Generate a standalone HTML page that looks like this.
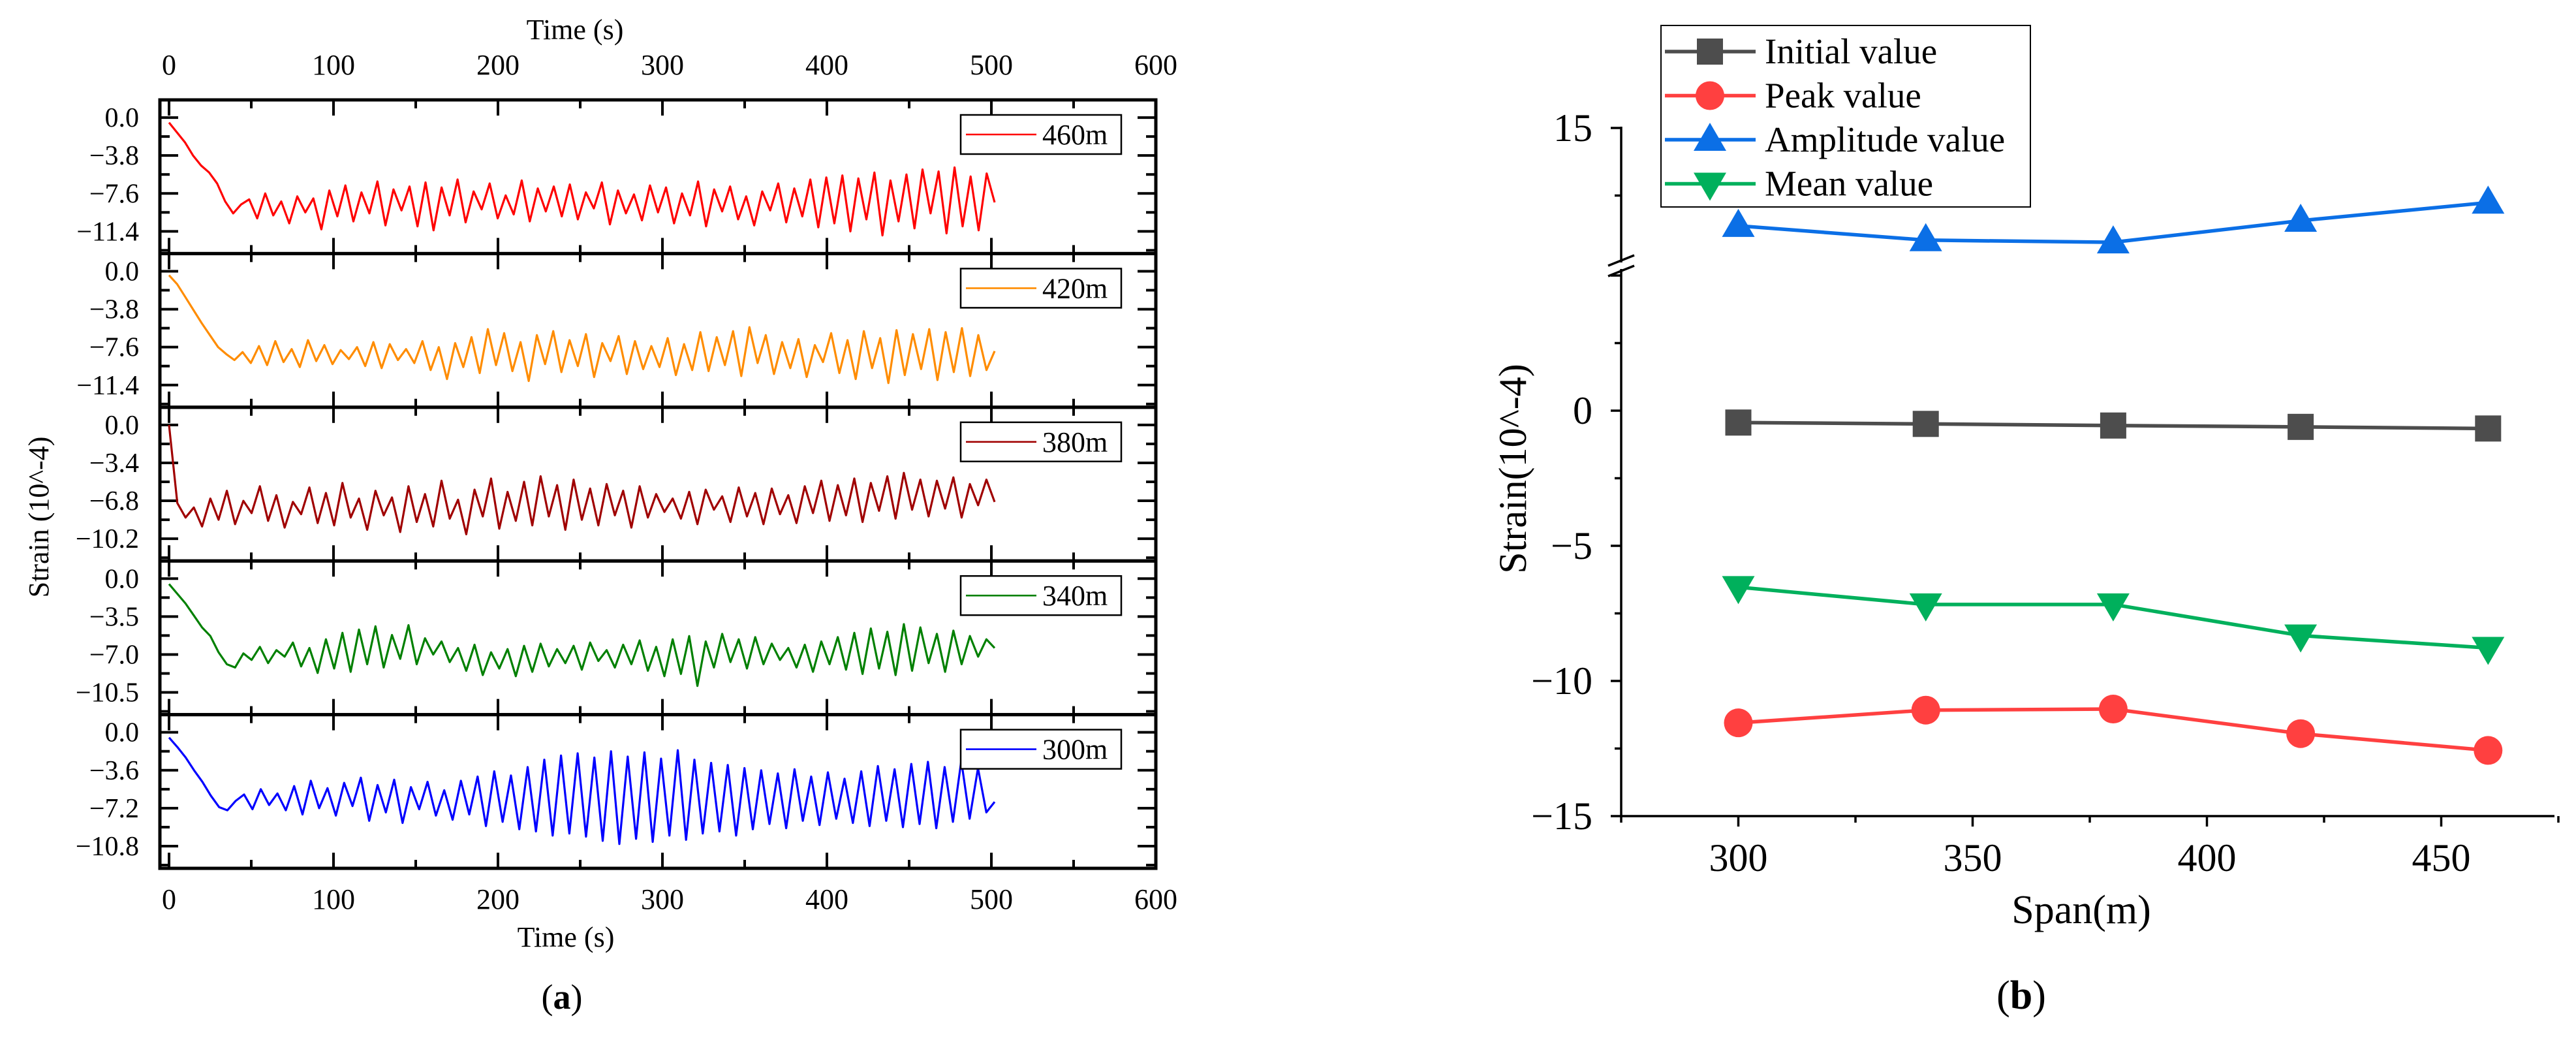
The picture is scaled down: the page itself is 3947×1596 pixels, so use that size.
<!DOCTYPE html>
<html><head><meta charset="utf-8"><style>
html,body{margin:0;padding:0;background:#fff}
svg{display:block}
text{font-family:"Liberation Serif",serif;fill:#000}
</style></head><body>
<svg id="fig" width="3947" height="1596" viewBox="0 0 3947 1596" xmlns="http://www.w3.org/2000/svg">
<g id="left"></g>
<g id="right"></g>
</svg>
<script>
// ---- Panel (a) data ----
const seriesNames = ["460m","420m","380m","340m","300m"];
const seriesColors = ["#ff0000","#ff8c00","#a00000","#008000","#0000ff"];
const tickSteps = [3.8,3.8,3.4,3.5,3.6];
const xTicksA = [0,100,200,300,400,500,600];
const s460 = [-0.5,-1.5,-2.5,-3.8,-4.8,-5.5,-6.6,-8.4,-9.6,-8.7,-8.2,-10.1,-7.6,-9.8,-8.4,-10.6,-7.9,-9.5,-8.1,-11.2,-7.3,-9.9,-6.8,-10.4,-7.5,-9.6,-6.4,-10.8,-7.2,-9.3,-6.9,-10.9,-6.5,-11.3,-7.0,-9.8,-6.2,-10.5,-7.4,-9.2,-6.6,-10.1,-7.8,-9.7,-6.3,-10.4,-7.1,-9.4,-6.9,-9.9,-6.7,-10.2,-7.5,-9.1,-6.5,-10.7,-7.3,-9.6,-7.7,-10.3,-6.8,-9.5,-7.0,-10.6,-7.6,-9.8,-6.4,-10.9,-7.2,-9.4,-6.9,-10.2,-7.9,-10.8,-7.4,-9.3,-6.6,-10.5,-7.1,-9.9,-6.2,-11.0,-6.0,-10.6,-5.8,-11.4,-6.1,-10.2,-5.5,-11.8,-6.3,-10.4,-5.7,-11.1,-5.2,-9.6,-5.4,-11.6,-5.0,-10.9,-5.9,-11.3,-5.6,-8.5];
const s420 = [-0.4,-1.3,-2.6,-3.9,-5.2,-6.4,-7.6,-8.3,-8.9,-8.1,-9.2,-7.5,-9.4,-7.0,-9.1,-7.8,-9.6,-6.9,-9.0,-7.4,-9.3,-7.9,-8.8,-7.6,-9.5,-7.1,-9.7,-7.3,-8.9,-7.8,-9.2,-7.0,-9.9,-7.6,-10.8,-7.2,-9.6,-6.6,-10.2,-5.8,-9.4,-6.2,-10.0,-7.1,-11.0,-6.4,-9.3,-6.0,-10.1,-6.9,-9.5,-6.3,-10.6,-7.2,-9.0,-6.5,-10.3,-7.0,-9.8,-7.5,-9.6,-6.7,-10.4,-7.3,-9.9,-6.1,-10.0,-6.6,-9.4,-6.0,-10.5,-5.6,-9.2,-6.4,-10.3,-7.1,-9.7,-6.8,-10.6,-7.4,-9.1,-6.2,-10.2,-6.9,-10.8,-6.0,-9.7,-6.7,-11.2,-5.9,-10.4,-6.3,-9.8,-5.8,-10.9,-6.1,-10.1,-5.7,-10.5,-6.4,-9.9,-8.0];
const s380 = [0.0,-7.0,-8.3,-7.4,-9.1,-6.6,-8.5,-5.9,-8.9,-6.8,-7.9,-5.5,-8.6,-6.3,-9.2,-6.9,-8.0,-5.6,-8.8,-6.1,-9.0,-5.2,-8.3,-6.6,-9.4,-5.9,-8.1,-6.5,-9.6,-5.5,-8.7,-6.2,-9.1,-5.0,-8.4,-6.7,-9.8,-5.8,-8.2,-4.8,-9.3,-6.0,-8.6,-5.1,-9.0,-4.6,-8.2,-5.4,-9.4,-4.9,-8.5,-5.7,-9.0,-5.3,-8.1,-5.9,-9.2,-5.5,-8.3,-6.2,-7.8,-6.6,-8.4,-6.0,-8.9,-5.8,-7.6,-6.4,-8.7,-5.6,-8.2,-6.1,-8.9,-5.7,-8.0,-6.3,-8.8,-5.5,-7.9,-5.0,-8.6,-5.4,-8.1,-4.8,-8.7,-5.2,-7.7,-4.6,-8.4,-4.3,-7.6,-4.9,-8.2,-5.0,-7.5,-4.7,-8.3,-5.3,-7.2,-4.9,-6.9];
const s340 = [-0.5,-1.4,-2.3,-3.4,-4.5,-5.3,-6.8,-7.9,-8.2,-6.9,-7.5,-6.3,-7.8,-6.6,-7.2,-5.9,-8.1,-6.4,-8.7,-5.6,-8.3,-5.0,-8.6,-4.7,-7.9,-4.4,-8.2,-5.2,-7.4,-4.3,-7.9,-5.5,-7.0,-5.8,-7.7,-6.4,-8.5,-6.1,-8.9,-6.8,-8.3,-6.5,-9.0,-6.2,-8.6,-6.0,-8.1,-6.5,-7.8,-6.2,-8.4,-5.9,-7.6,-6.6,-8.2,-6.1,-7.9,-5.7,-8.5,-6.3,-9.0,-5.6,-8.8,-5.3,-9.9,-5.8,-8.2,-5.1,-7.7,-5.6,-8.3,-5.4,-7.9,-6.0,-7.5,-6.4,-8.2,-6.1,-8.6,-5.8,-7.9,-5.4,-8.4,-5.0,-8.8,-4.6,-8.3,-4.9,-8.9,-4.2,-8.5,-4.5,-7.8,-5.1,-8.6,-4.8,-7.9,-5.3,-7.2,-5.6,-6.4];
const s300 = [-0.5,-1.4,-2.4,-3.6,-4.7,-6.0,-7.1,-7.4,-6.5,-5.9,-7.3,-5.4,-6.9,-5.8,-7.4,-5.1,-7.8,-4.6,-7.2,-5.3,-7.9,-4.8,-7.0,-4.3,-8.4,-5.0,-7.6,-4.5,-8.6,-5.2,-7.3,-4.7,-7.9,-5.5,-8.3,-4.6,-7.8,-4.2,-8.9,-3.7,-8.5,-4.1,-9.2,-3.3,-9.4,-2.6,-9.8,-2.2,-9.6,-2.0,-9.9,-2.4,-10.3,-1.8,-10.6,-2.3,-10.1,-1.9,-10.4,-2.5,-9.8,-1.7,-10.2,-2.6,-9.6,-2.9,-9.4,-3.1,-9.8,-3.4,-9.2,-3.6,-8.7,-3.9,-9.1,-3.5,-8.4,-4.2,-8.8,-3.8,-8.2,-4.4,-8.6,-3.7,-8.9,-3.2,-8.4,-3.5,-9.0,-3.0,-8.7,-2.8,-9.1,-3.3,-8.5,-2.7,-8.2,-3.4,-7.6,-6.6];
const seriesA = [s460,s420,s380,s340,s300];
const tEnd = 502;

// ---- Panel (b) data ----
const spans = [300,340,380,420,460];
const initialVals = [-0.44,-0.49,-0.55,-0.60,-0.66];
const peakVals = [-11.55,-11.08,-11.04,-11.95,-12.57];
const amplitudeVals = [11.38,10.85,10.77,11.57,12.24];
const meanVals = [-6.53,-7.17,-7.17,-8.32,-8.78];
const xTicksB = [300,350,400,450];
const yTicksLower = [0,-5,-10,-15];

const NS="http://www.w3.org/2000/svg";
function mk(tag, attrs, parent, txt){const e=document.createElementNS(NS,tag);for(const k in attrs)e.setAttribute(k,attrs[k]);if(txt!==undefined)e.textContent=txt;parent.appendChild(e);return e;}

// ===== Panel (a) =====
const L=document.getElementById('left');
const FX0=245, FX1=1771, PT=153, PH=235.4;
const tx = t => 259 + t*2.52;
for(const t of xTicksA){
  const a=mk('text',{x:tx(t),y:114,'font-size':44,'text-anchor':'middle'},L,String(t));
  
  
  const b=mk('text',{x:tx(t),y:1392,'font-size':44,'text-anchor':'middle'},L,String(t));
  
  
}
let e=mk('text',{x:tx(250)-8,y:60,'font-size':44,'text-anchor':'middle'},L,'Time (s)');

e=mk('text',{x:tx(250)-22,y:1450,'font-size':44,'text-anchor':'middle'},L,'Time (s)');

e=mk('text',{x:0,y:0,'font-size':44,'text-anchor':'middle',transform:'translate(74,792) rotate(-90)'},L,'Strain (10^-4)');

e=mk('text',{x:tx(250)-28,y:1545,'font-size':54,'text-anchor':'middle'},L,'');

mk('tspan',{},e,'(');mk('tspan',{'font-weight':'bold'},e,'a');mk('tspan',{},e,')');

seriesA.forEach((vals,k)=>{
  const top=PT+k*PH, bot=top+PH, s=tickSteps[k];
  const ymax=0.466*s, ymin=-3.586*s;
  const ty=v=> top + (ymax-v)/(ymax-ymin)*PH;
  const g=mk('g',{},L);
  
  
  for(let t=0;t<=600;t+=50){
    const len=(t%100===0)?24:13;
    mk('line',{x1:tx(t),x2:tx(t),y1:top,y2:top+len,stroke:'#000','stroke-width':4},g);
    mk('line',{x1:tx(t),x2:tx(t),y1:bot,y2:bot-len,stroke:'#000','stroke-width':4},g);
  }
  for(let i=0;i<=7;i++){
    const v=-i*s/2; const len=(i%2===0)?28:15; const y=ty(v);
    mk('line',{x1:FX0,x2:FX0+len,y1:y,y2:y,stroke:'#000','stroke-width':4},g);
    mk('line',{x1:FX1,x2:FX1-len,y1:y,y2:y,stroke:'#000','stroke-width':4},g);
    if(i%2===0){
      const lab=(i===0?'0.0':'\u2212'+(i/2*s).toFixed(1));
      const tl=mk('text',{x:213,y:y+14,'font-size':42,'text-anchor':'end'},g,lab);
      
      
    }
  }
  const n=vals.length;
  const pts=vals.map((v,i)=>tx(i*tEnd/(n-1)).toFixed(1)+','+ty(v).toFixed(1)).join(' ');
  const pl=mk('polyline',{points:pts,fill:'none',stroke:seriesColors[k],'stroke-width':3.2,'stroke-linejoin':'round'},g);
  
  
  mk('rect',{x:FX0,y:top,width:FX1-FX0,height:PH,fill:'none',stroke:'#000','stroke-width':5},g);
  const lg=mk('g',{},g);
  
  
  mk('rect',{x:1472,y:top+23,width:246,height:60,fill:'#fff',stroke:'#000','stroke-width':2.5},lg);
  mk('line',{x1:1480,x2:1588,y1:top+53,y2:top+53,stroke:seriesColors[k],'stroke-width':2.6},lg);
  mk('text',{x:1597,y:top+68,'font-size':44},lg,seriesNames[k]);
});

// ===== Panel (b) =====
const R=document.getElementById('right');
const AX0=2484, AX1=3914, AY=1250;
const bx=v=> AX0 + (v-275)*(359/50);
const byL=v=> 629 - v*41.4;
const byU=v=> 196 + (15-v)*41.4;
e=mk('line',{x1:AX0,x2:AX1,y1:AY,y2:AY,stroke:'#000','stroke-width':3.5},R);

e=mk('line',{x1:AX0,x2:AX0,y1:AY+2,y2:412,stroke:'#000','stroke-width':3.5},R);

e=mk('line',{x1:AX0,x2:AX0,y1:402,y2:194,stroke:'#000','stroke-width':3.5},R);

e=mk('g',{},R);

mk('line',{x1:AX0-20,y1:407,x2:AX0+20,y2:391,stroke:'#000','stroke-width':3.5},e);
mk('line',{x1:AX0-20,y1:423,x2:AX0+20,y2:407,stroke:'#000','stroke-width':3.5},e);
for(let v=275;v<=475;v+=25){
  const len=(v%50===0)?16:10;
  mk('line',{x1:bx(v),x2:bx(v),y1:AY,y2:AY+len,stroke:'#000','stroke-width':3.5},R);
}
for(const v of xTicksB){
  const t=mk('text',{x:bx(v),y:1334,'font-size':60,'text-anchor':'middle'},R,String(v));
  
  
}
for(let v=5;v>=-15;v-=2.5){
  const len=(v%5===0)?16:10;
  mk('line',{x1:AX0,x2:AX0-len,y1:byL(v),y2:byL(v),stroke:'#000','stroke-width':3.5},R);
}
for(const v of yTicksLower){
  const t=mk('text',{x:2440,y:byL(v)+20,'font-size':60,'text-anchor':'end'},R,v===0?'0':'\u2212'+Math.abs(v));
  
  
}
mk('line',{x1:AX0,x2:AX0-16,y1:byU(15),y2:byU(15),stroke:'#000','stroke-width':3.5},R);
mk('line',{x1:AX0,x2:AX0-10,y1:byU(12.5),y2:byU(12.5),stroke:'#000','stroke-width':3.5},R);
e=mk('text',{x:2440,y:byU(15)+20,'font-size':60,'text-anchor':'end'},R,'15');

e=mk('text',{x:3189,y:1414,'font-size':62,'text-anchor':'middle'},R,'Span(m)');

e=mk('text',{x:0,y:0,'font-size':60,'text-anchor':'middle',transform:'translate(2338,718) rotate(-90)'},R,'Strain(10^-4)');

e=mk('text',{x:3097,y:1545,'font-size':62,'text-anchor':'middle'},R,'');

mk('tspan',{},e,'(');mk('tspan',{'font-weight':'bold'},e,'b');mk('tspan',{},e,')');

function marker(g,shape,x,y,color){
  if(shape==='square') mk('rect',{x:x-20,y:y-20,width:40,height:40,fill:color},g);
  else if(shape==='circle') mk('circle',{cx:x,cy:y,r:22,fill:color},g);
  else if(shape==='up') mk('polygon',{points:`${x},${y-26} ${x-25},${y+17} ${x+25},${y+17}`,fill:color},g);
  else mk('polygon',{points:`${x},${y+26} ${x-25},${y-17} ${x+25},${y-17}`,fill:color},g);
}
const seriesB=[
  {name:'Initial value',vals:initialVals,color:'#4d4d4d',shape:'square',up:false,key:'initial'},
  {name:'Peak value',vals:peakVals,color:'#ff4040',shape:'circle',up:false,key:'peak'},
  {name:'Amplitude value',vals:amplitudeVals,color:'#0b6fe6',shape:'up',up:true,key:'amplitude'},
  {name:'Mean value',vals:meanVals,color:'#00b05c',shape:'down',up:false,key:'mean'}
];
seriesB.forEach(s=>{
  const g=mk('g',{},R);
  
  
  const yf=s.up?byU:byL;
  const pts=s.vals.map((v,i)=>bx(spans[i])+','+yf(v)).join(' ');
  mk('polyline',{points:pts,fill:'none',stroke:s.color,'stroke-width':5.5},g);
  s.vals.forEach((v,i)=>marker(g,s.shape,bx(spans[i]),yf(v),s.color));
});
const lg=mk('g',{},R);


mk('rect',{x:2545,y:39,width:566,height:278,fill:'#fff',stroke:'#000','stroke-width':2},lg);
seriesB.forEach((s,i)=>{
  const y=79+i*67.5;
  const ent=mk('g',{},lg);
  
  
  mk('line',{x1:2551,x2:2690,y1:y,y2:y,stroke:s.color,'stroke-width':5.5},ent);
  marker(ent,s.shape,2620,y,s.color);
  mk('text',{x:2704,y:y+18,'font-size':55},ent,s.name);
});
</script>
</body></html>
